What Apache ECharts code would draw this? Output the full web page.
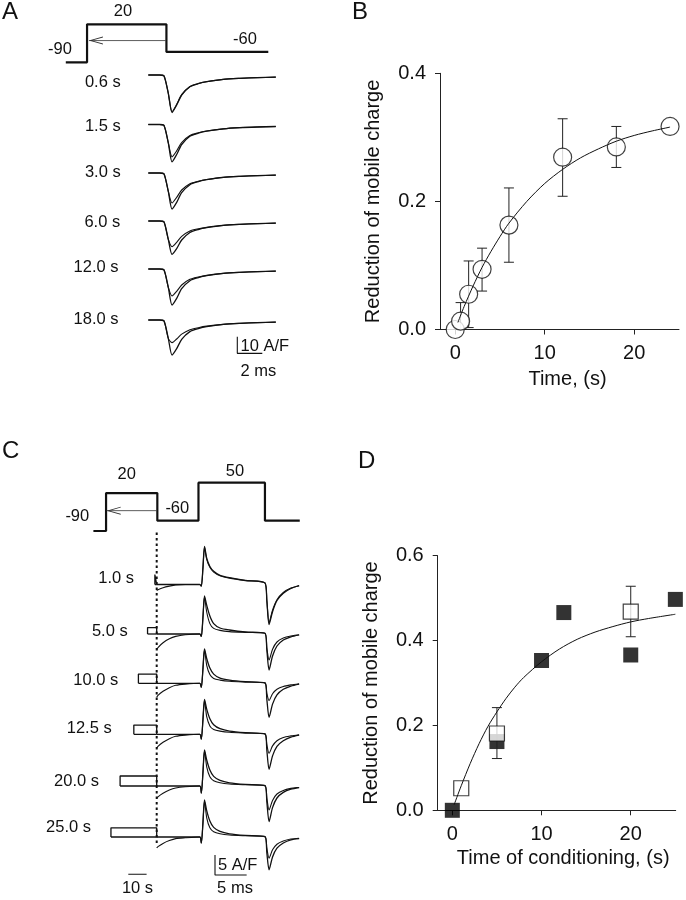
<!DOCTYPE html>
<html><head><meta charset="utf-8">
<script src="https://cdn.jsdelivr.net/npm/echarts@6/dist/echarts.min.js"></script>
<style>html,body{margin:0;padding:0;background:#fff}#c{width:686px;height:900px}</style>
</head><body><div id="c"></div>
<script>
// ================= DATA =================
// ---- Panel A: voltage protocol (ms, mV) ----
const aProtoT = [-6.6, -4.9, -4.9, 1.45, 1.45, 9.6];
const aProtoV = [-90, -90, 20, 20, -60, -60];
const aArrow = [[1.4, -27], [-4.75, -27]];
const aProtoLabels = ['-90', '20', '-60'];
// ---- Panel A: charge-movement traces (ms, A/F) ----
const aRowLabels = ['0.6 s', '1.5 s', '3.0 s', '6.0 s', '12.0 s', '18.0 s'];
const aTime   = [0, 0.9, 1.25, 1.6, 1.9, 2.27, 2.67, 3.33, 4.0, 4.67, 6.0, 7.33, 8.7, 10.2];
const aCtrl06 = [0, 0, -0.5, -11, -22.5, -18, -12, -7, -5.2, -4, -2.6, -2.0, -1.6, -1.3];
const aTest06 = [0, 0, -0.5, -11, -22, -17.6, -11.8, -6.9, -5.1, -4, -2.6, -2.0, -1.6, -1.3];
const aCtrl15 = [0, 0, -0.5, -11, -22.4, -18, -12, -7, -5.2, -4, -2.6, -1.9, -1.5, -1.2];
const aTest15 = [0, 0, -0.5, -11, -19.4, -15.8, -10.8, -6.6, -5.0, -3.9, -2.6, -1.9, -1.5, -1.2];
const aCtrl30 = [0, 0, -0.5, -11, -21.6, -17.6, -11.8, -7, -5.2, -4, -2.6, -2.0, -1.6, -1.3];
const aTest30 = [0, 0, -0.5, -11, -18, -14.6, -10.2, -6.4, -4.9, -3.9, -2.6, -2.0, -1.6, -1.3];
const aCtrl60 = [0, 0, -0.5, -11, -20, -16.6, -11.4, -6.9, -5.1, -4, -2.6, -2.0, -1.6, -1.3];
const aTest60 = [0, 0, -0.5, -11, -15.4, -12.8, -9.2, -6.0, -4.7, -3.8, -2.6, -2.0, -1.6, -1.3];
const aCtrl120 = [0, 0, -0.5, -11, -21.6, -17.6, -11.8, -7, -5.2, -4, -2.6, -2.0, -1.6, -1.3];
const aTest120 = [0, 0, -0.5, -11, -16.2, -13.4, -9.6, -6.2, -4.8, -3.8, -2.6, -2.0, -1.6, -1.3];
const aCtrl180 = [0, 0, -0.5, -11, -21, -17.2, -11.6, -7, -5.2, -4, -2.6, -2.0, -1.6, -1.3];
const aTest180 = [0, 0, -0.5, -11, -13.6, -11.4, -8.5, -5.8, -4.6, -3.7, -2.6, -2.0, -1.6, -1.3];
const aScaleBar = [[0, 10], [0, 0], [2, 0]]; // 10 A/F, 2 ms

// ---- Panel B ----
const bTime = [0, 0.6, 1.5, 3, 6, 12, 18, 24];
const bReduction = [0, 0.013, 0.055, 0.094, 0.163, 0.269, 0.285, 0.317];
const bErrLow  = [null, 0.0, 0.003, 0.060, 0.105, 0.208, 0.253, null];
const bErrHigh = [null, 0.042, 0.107, 0.127, 0.221, 0.329, 0.317, null];
const bFitT = [0.3, 1, 2, 3, 4, 5, 6, 8, 10, 12, 14, 16, 18, 20, 22, 24];
const bFitY = [0.011, 0.036, 0.068, 0.097, 0.122, 0.145, 0.166, 0.2, 0.228, 0.25, 0.268, 0.282, 0.294, 0.303, 0.31, 0.316];
const bXTicks = [0, 10, 20];
const bYTicks = [0, 0.2, 0.4];

// ---- Panel C: protocol ----
const cProtoT = [-10, -8, -8, 0.1, 0.1, 6.6, 6.6, 17.1, 17.1, 22.6];
const cProtoV = [-90, -90, 20, 20, -60, -60, 50, 50, -60, -60];
const cArrow = [[0, -31], [-7.9, -31]];
const cProtoLabels = ['-90', '20', '-60', '50'];
// ---- Panel C: traces ----
const cRowLabels = ['1.0 s', '5.0 s', '10.0 s', '12.5 s', '20.0 s', '25.0 s'];
const cCondDur = [1, 5, 10, 12.5, 20, 25];           // s
const cCondLevel = [2.5, 1.6, 2.3, 2.3, 2.5, 2.3];   // A/F during conditioning
const cTime = [0, 0.2, 1, 2, 3, 4.5, 6.8, 7.05, 7.3, 7.55, 7.9, 8.4, 9.0, 10.0, 11.5, 14.0, 17.1, 17.4, 17.75, 18.3, 19.0, 20.0, 21.2, 22.5];
const c1Ctrl  = [0, 0, 0, 0, 0, 0, 0, -0.4, 4, 9.5, 6.6, 4.5, 3.3, 2.3, 1.7, 1.0, 0.4, -4, -10, -6.8, -4.0, -2.2, -1.0, -0.3];
const c1Test  = [-1.5, -1.3, -0.8, -0.4, -0.1, 0, 0, -0.4, 4, 9.3, 6.3, 4.3, 3.1, 2.2, 1.6, 1.0, 0.4, -4, -9.6, -6.4, -3.8, -2.0, -0.9, -0.3];
const c5Ctrl  = [0, 0, 0, 0, 0, 0, 0, -0.6, 4, 9.5, 7.2, 4.5, 2.6, 1.5, 1.0, 0.5, 0.2, -4, -9, -5.5, -3.0, -1.5, -0.7, -0.2];
const c5Test  = [-4, -3.4, -2.2, -1.2, -0.6, -0.2, 0, -0.6, 4, 9.3, 5.5, 2.6, 1.4, 0.9, 0.6, 0.4, 0.2, -3.5, -6.5, -3.8, -2.0, -1.0, -0.5, -0.2];
const c10Ctrl = [0, 0, 0, 0, 0, 0, 0, -1.0, 3.5, 8.6, 6.2, 3.8, 2.3, 1.3, 0.8, 0.4, 0.1, -4, -8.5, -5.2, -2.9, -1.5, -0.7, -0.2];
const c10Test = [-3.5, -3.0, -2.0, -1.1, -0.5, -0.2, 0, -1.0, 3.5, 8.4, 4.5, 2.2, 1.2, 0.8, 0.5, 0.3, 0.1, -2.5, -4.3, -2.6, -1.5, -0.8, -0.4, -0.1];
const c125Ctrl = [0, 0, 0, 0, 0, 0, 0, -1.2, 3.5, 8.75, 6.3, 3.9, 2.4, 1.4, 0.8, 0.4, 0.1, -4, -8.75, -5.4, -3.0, -1.6, -0.7, -0.2];
const c125Test = [-3.5, -3.0, -2.0, -1.1, -0.5, -0.2, 0, -1.2, 3.5, 8.5, 4.4, 2.1, 1.2, 0.8, 0.5, 0.3, 0.1, -2.6, -4.75, -2.9, -1.6, -0.8, -0.4, -0.1];
const c20Ctrl = [0, 0, 0, 0, 0, 0, 0, -1.8, 3.2, 9.0, 6.5, 4.0, 2.4, 1.4, 0.8, 0.4, 0.1, -4, -8.9, -5.4, -3.0, -1.6, -0.8, -0.4];
const c20Test = [-3.1, -2.7, -1.8, -1.0, -0.5, -0.2, 0, -1.8, 3.2, 8.8, 4.8, 2.3, 1.3, 0.8, 0.5, 0.3, 0.1, -3, -6.0, -3.6, -2.0, -1.1, -0.6, -0.3];
const c25Ctrl = [0, 0, 0, 0, 0, 0, 0, -1.5, 3.4, 9.3, 6.6, 4.0, 2.4, 1.4, 0.8, 0.4, 0.1, -4, -8.2, -5.0, -2.8, -1.5, -0.7, -0.4];
const c25Test = [-2.75, -2.4, -1.6, -0.9, -0.4, -0.2, 0, -1.5, 3.4, 9.0, 4.8, 2.3, 1.3, 0.8, 0.5, 0.3, 0.1, -2.8, -5.3, -3.2, -1.8, -1.0, -0.5, -0.3];
const cScaleBar = [[0, 5], [0, 0], [5, 0]];  // 5 A/F, 5 ms
const cTimeBar = [[0, 0], [10, 0]];          // 10 s
const cMarker = [[0, 0], [0, 1]];            // test-pulse onset

// ---- Panel D ----
const dFilledT = [0, 5, 10, 12.5, 20, 25];
const dFilledY = [0, 0.162, 0.353, 0.466, 0.366, 0.497];
const dOpenT = [1, 5, 20];
const dOpenY = [0.052, 0.181, 0.468];
const dErrLow  = [null, 0.122, 0.409];
const dErrHigh = [null, 0.242, 0.528];
const dFitT = [0.2, 1, 2, 3, 4, 5, 6, 7, 8, 10, 12, 14, 16, 18, 20, 22, 25];
const dFitY = [0.013, 0.058, 0.11, 0.157, 0.198, 0.232, 0.263, 0.29, 0.313, 0.35, 0.38, 0.403, 0.42, 0.433, 0.444, 0.452, 0.462];
const dXTicks = [0, 10, 20];
const dYTicks = [0, 0.2, 0.4, 0.6];

// ================= LAYOUT / STYLE =================
const FONT = '"Liberation Sans", Arial, Helvetica, sans-serif';
const INK = '#111';
const grids = [], xAxes = [], yAxes = [], series = [], texts = [];
function addGrid(rect, xa, ya) {
  grids.push(rect);
  const i = grids.length - 1;
  xAxes.push(Object.assign({ gridIndex: i, type: 'value', show: false }, xa));
  yAxes.push(Object.assign({ gridIndex: i, type: 'value', show: false }, ya));
  return i;
}
function pairs(xs, ys) { return xs.map((x, k) => [x, ys[k]]); }
function trace(gi, xs, ys, w) {
  series.push({ type: 'line', xAxisIndex: gi, yAxisIndex: gi, data: pairs(xs, ys), showSymbol: false,
    symbol: 'none', smooth: 0.25, clip: false, lineStyle: { color: INK, width: w || 1.3 }, z: 3, silent: true });
}
function poly(gi, pts, style, z) {
  series.push({ type: 'line', xAxisIndex: gi, yAxisIndex: gi, data: pts, showSymbol: false, symbol: 'none',
    clip: false, lineStyle: Object.assign({ color: INK, width: 1 }, style), z: z || 3, silent: true });
}
function arrow(gi, pts) {
  series.push({ type: 'line', xAxisIndex: gi, yAxisIndex: gi, clip: false, silent: true, z: 3,
    showSymbol: true, lineStyle: { color: '#333', width: 0.8 }, itemStyle: { color: '#333' },
    data: [{ value: pts[0], symbol: 'none' },
           { value: pts[1], symbol: 'path://M10,0 L0,5 L10,10 L10,8.8 L2.2,5 L10,1.2 Z', symbolSize: [14, 8], symbolOffset: [7, 0] }] });
}
function text(str, x, y, size, align) {
  texts.push({ type: 'text', x: x, y: y, silent: true, z: 10,
    style: { text: str, font: size + 'px ' + FONT, fill: INK, align: align || 'center', verticalAlign: 'middle',
             textAlign: align || 'center', textVerticalAlign: 'middle' } });
}

// ---------- Panel A ----------
const aX0 = 148.3, aPxMs = 12.5, aPxAF = 1.667, aPxMv = 0.345;
const aBase = [75, 124.5, 173, 221, 269, 320];
const aCtrl = [aCtrl06, aCtrl15, aCtrl30, aCtrl60, aCtrl120, aCtrl180];
const aTest = [aTest06, aTest15, aTest30, aTest60, aTest120, aTest180];
{
  const zeroMv = 31.25;
  const gi = addGrid({ left: aX0 - 7 * aPxMs, width: 17.2 * aPxMs, top: zeroMv - 40 * aPxMv, height: 140 * aPxMv },
    { min: -7, max: 10.2 }, { min: -100, max: 40 });
  poly(gi, pairs(aProtoT, aProtoV), { width: 2.2 });
  arrow(gi, aArrow);
}
aBase.forEach((b, r) => {
  const gi = addGrid({ left: aX0, width: 10.2 * aPxMs, top: b - 2 * aPxAF, height: 26 * aPxAF },
    { min: 0, max: 10.2 }, { min: -24, max: 2 });
  trace(gi, aTime, aCtrl[r]);
  trace(gi, aTime, aTest[r], 1.1);
});
{
  const gi = addGrid({ left: 237.3, top: 336.7, width: 2 * aPxMs, height: 10 * aPxAF }, { min: 0, max: 2 }, { min: 0, max: 10 });
  poly(gi, aScaleBar, { width: 1.1 });
}
const aLabelY = [82.7, 126, 172.7, 222.3, 267.7, 319.3];
const aLabelX = [120.7, 120.7, 120.7, 120.2, 118.5, 118.5];
aRowLabels.forEach((s, r) => text(s, aLabelX[r], aLabelY[r], 16.5, 'right'));
text(aProtoLabels[0], 60, 49, 16.5); text(aProtoLabels[1], 123, 11, 16.5); text(aProtoLabels[2], 245, 39, 16.5);
text('10 A/F', 240.5, 346, 16.5, 'left'); text('2 ms', 258.3, 371.7, 16.5);
text('A', 2, 12.5, 24, 'left');

// ---------- Panel C ----------
const cX0 = 156.7, cPxMs = 6.33, cPxAF = 4, cPxS = 1.83, cPxMv = 0.345;
const cBase = [584.5, 634, 683.3, 734.3, 786, 837];
const cCtrl = [c1Ctrl, c5Ctrl, c10Ctrl, c125Ctrl, c20Ctrl, c25Ctrl];
const cTest = [c1Test, c5Test, c10Test, c125Test, c20Test, c25Test];
{
  const zeroMv = 499.95;
  const gi = addGrid({ left: cX0 - 11 * cPxMs, width: 34 * cPxMs, top: zeroMv - 60 * cPxMv, height: 160 * cPxMv },
    { min: -11, max: 23 }, { min: -100, max: 60 });
  poly(gi, pairs(cProtoT, cProtoV), { width: 2.2 });
  arrow(gi, cArrow);
}
{
  const gi = addGrid({ left: cX0 - 10, width: 20, top: 531.7, height: 311.3 }, { min: -1, max: 1 }, { min: 0, max: 1 });
  poly(gi, cMarker, { width: 2, type: [2.5, 3] }, 2);
}
cBase.forEach((b, r) => {
  const gi = addGrid({ left: cX0, width: 22.5 * cPxMs, top: b - 10.5 * cPxAF, height: 21.5 * cPxAF },
    { min: 0, max: 22.5 }, { min: -11, max: 10.5 });
  trace(gi, cTime, cCtrl[r]);
  trace(gi, cTime, cTest[r], 1.1);
  const gp = addGrid({ left: cX0 - 26 * cPxS, width: 26 * cPxS, top: b - 10.5 * cPxAF, height: 21.5 * cPxAF },
    { min: -26, max: 0 }, { min: -11, max: 10.5 });
  const T = cCondDur[r], L = cCondLevel[r];
  poly(gp, [[-T, 0], [0, 0]], { width: 1.3 });
  poly(gp, [[-T, 0], [-T, L], [0, L], [0, 0]], { width: 1.3 });
});
{
  const gi = addGrid({ left: 215, top: 855, width: 5 * cPxMs, height: 5 * cPxAF }, { min: 0, max: 5 }, { min: 0, max: 5 });
  poly(gi, cScaleBar, { width: 1.1 });
  const gt = addGrid({ left: 128.3, top: 864.3, width: 10 * cPxS, height: 10 }, { min: 0, max: 10 }, { min: 0, max: 1 });
  poly(gt, cTimeBar, { width: 1.1 });
}
const cLabelY = [578.3, 631.7, 680.7, 728.3, 781.7, 827.7];
const cLabelX = [134, 127.7, 118.3, 111.7, 99, 91];
cRowLabels.forEach((s, r) => text(s, cLabelX[r], cLabelY[r], 16.5, 'right'));
text(cProtoLabels[0], 77.3, 516.7, 16.5); text(cProtoLabels[1], 126.7, 474, 16.5);
text(cProtoLabels[2], 177.3, 508.3, 16.5); text(cProtoLabels[3], 235, 471.7, 16.5);
text('5 A/F', 218, 865, 16.5, 'left'); text('5 ms', 235, 888.3, 16.5); text('10 s', 137.5, 888, 16.5);
text('C', 2, 451, 24, 'left');

// ---------- Panels B & D (plots) ----------
const axisCommon = (ticks, fmt) => ({
  show: true,
  axisLine: { show: true, onZero: false, lineStyle: { color: '#222', width: 1 } },
  axisTick: { show: true, inside: false, length: 5, lineStyle: { color: '#222', width: 1 }, customValues: ticks },
  axisLabel: { show: true, customValues: ticks, formatter: fmt, color: INK, fontFamily: FONT, fontSize: 20, margin: 14 },
  splitLine: { show: false },
  nameLocation: 'middle',
  nameTextStyle: { color: INK, fontFamily: FONT, fontSize: 20 }
});
function errRender(params, api) {
  const x = api.value(0), lo = api.value(1), hi = api.value(2);
  const p1 = api.coord([x, hi]), p2 = api.coord([x, lo]);
  const w = 5, st = { stroke: '#222', lineWidth: 1 };
  return { type: 'group', children: [
    { type: 'line', shape: { x1: p1[0], y1: p1[1], x2: p2[0], y2: p2[1] }, style: st },
    { type: 'line', shape: { x1: p1[0] - w, y1: p1[1], x2: p1[0] + w, y2: p1[1] }, style: st },
    { type: 'line', shape: { x1: p2[0] - w, y1: p2[1], x2: p2[0] + w, y2: p2[1] }, style: st } ] };
}
function errData(xs, lo, hi) {
  const out = [];
  xs.forEach((x, k) => { if (lo[k] != null) out.push([x, lo[k], hi[k]]); });
  return out;
}
{
  const gi = addGrid({ left: 440, top: 73.3, width: 239, height: 256.2 },
    Object.assign(axisCommon(bXTicks, v => String(v)), { min: -1.7, max: 25, name: 'Time, (s)', nameGap: 40,
      nameTextStyle: { color: INK, fontFamily: FONT, fontSize: 20, padding: [0, 0, 0, 16] } }),
    Object.assign(axisCommon(bYTicks, v => v.toFixed(1)), { min: 0, max: 0.4, name: 'Reduction of mobile charge', nameGap: 57 }));
  series.push({ type: 'custom', xAxisIndex: gi, yAxisIndex: gi, renderItem: errRender, encode: { x: 0, y: [1, 2] },
    data: errData(bTime, bErrLow, bErrHigh), z: 2, silent: true, clip: false });
  series.push({ type: 'scatter', xAxisIndex: gi, yAxisIndex: gi, data: pairs(bTime, bReduction), symbol: 'circle', symbolSize: 18,
    itemStyle: { color: '#fff', borderColor: INK, borderWidth: 1.2 }, z: 4, silent: true, clip: false });
  series.push({ type: 'line', xAxisIndex: gi, yAxisIndex: gi, data: pairs(bFitT, bFitY), smooth: 0.3, showSymbol: false, symbol: 'none',
    lineStyle: { color: INK, width: 1 }, z: 5, silent: true, clip: false });
  text('B', 352, 12.5, 24, 'left');
}
{
  const gi = addGrid({ left: 437.7, top: 555.7, width: 238, height: 254.6 },
    Object.assign(axisCommon(dXTicks, v => String(v)), { min: -1.64, max: 25.04, name: 'Time of conditioning, (s)', nameGap: 38,
      nameTextStyle: { color: INK, fontFamily: FONT, fontSize: 20, padding: [0, 0, 0, 13] } }),
    Object.assign(axisCommon(dYTicks, v => v.toFixed(1)), { min: 0, max: 0.6, name: 'Reduction of mobile charge', nameGap: 56 }));
  series.push({ type: 'scatter', xAxisIndex: gi, yAxisIndex: gi, data: pairs(dFilledT, dFilledY), symbol: 'rect', symbolSize: 15,
    itemStyle: { color: '#000' }, z: 2, silent: true, clip: false });
  series.push({ type: 'custom', xAxisIndex: gi, yAxisIndex: gi, renderItem: errRender, encode: { x: 0, y: [1, 2] },
    data: errData(dOpenT, dErrLow, dErrHigh), z: 3, silent: true, clip: false });
  series.push({ type: 'scatter', xAxisIndex: gi, yAxisIndex: gi, data: pairs(dOpenT, dOpenY), symbol: 'rect', symbolSize: 15,
    itemStyle: { color: '#fff', borderColor: INK, borderWidth: 1.2 }, z: 4, silent: true, clip: false });
  series.push({ type: 'line', xAxisIndex: gi, yAxisIndex: gi, data: pairs(dFitT, dFitY), smooth: 0.3, showSymbol: false, symbol: 'none',
    lineStyle: { color: INK, width: 1 }, z: 5, silent: true, clip: false });
  text('D', 358, 461, 24, 'left');
}

const chart = echarts.init(document.getElementById('c'), null, { renderer: 'canvas' });
chart.setOption({
  animation: false,
  backgroundColor: '#fff',
  textStyle: { fontFamily: FONT },
  grid: grids, xAxis: xAxes, yAxis: yAxes, series: series,
  graphic: { elements: texts }
});
</script></body></html>
